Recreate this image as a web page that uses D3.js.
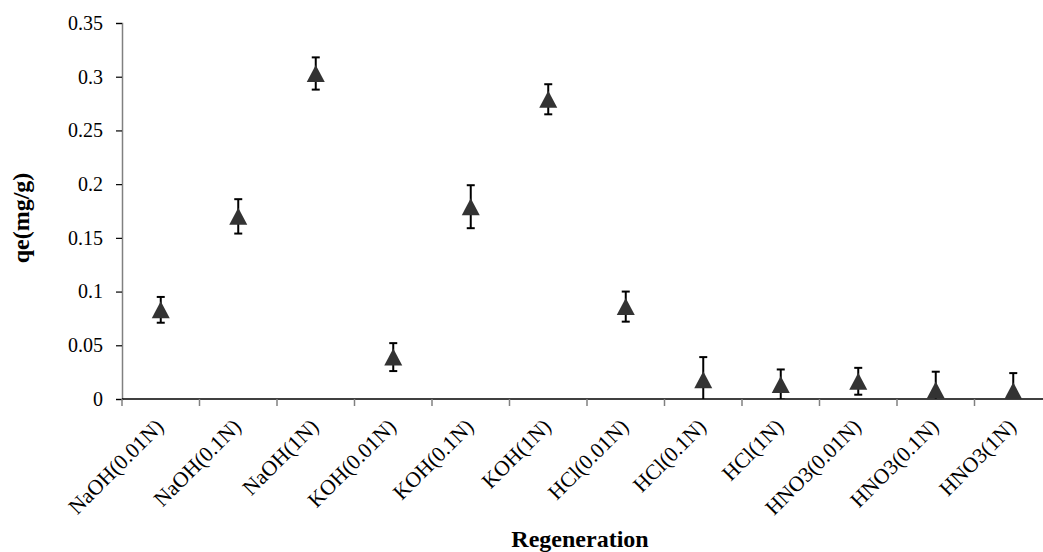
<!DOCTYPE html>
<html>
<head>
<meta charset="utf-8">
<script src="https://cdn.jsdelivr.net/npm/d3@7"></script>
<style>
  body { margin: 0; background: #fff; }
  svg { display: block; font-family: "Liberation Serif", "Times New Roman", serif; }
</style>
</head>
<body>
<script>
var categories = ["NaOH(0.01N)", "NaOH(0.1N)", "NaOH(1N)", "KOH(0.01N)", "KOH(0.1N)", "KOH(1N)",
                  "HCl(0.01N)", "HCl(0.1N)", "HCl(1N)", "HNO3(0.01N)", "HNO3(0.1N)", "HNO3(1N)"];
var qe     = [0.083, 0.170, 0.303, 0.039, 0.179, 0.279, 0.086, 0.018, 0.0135, 0.0165, 0.0084, 0.0076];
var errors = [0.012, 0.016, 0.015, 0.013, 0.020, 0.014, 0.014, 0.021, 0.014, 0.0125, 0.017, 0.0165];
var yTicks = [0, 0.05, 0.1, 0.15, 0.2, 0.25, 0.3, 0.35];
var yTickLabels = ["0", "0.05", "0.1", "0.15", "0.2", "0.25", "0.3", "0.35"];

var width = 1043,
    height = 552;

var margin = {left: 122, top: 23, bottom: 399, right: 1052};

var svg = d3.select('body')
    .append('svg')
    .attr('width', width)
    .attr('height', height);

var x = d3.scaleBand()
    .domain(categories)
    .range([margin.left, margin.right]);

var y = d3.scaleLinear()
    .domain([0, 0.35])
    .range([margin.bottom, margin.top]);

svg.append('clipPath')
    .attr('id', 'plot')
  .append('rect')
    .attr('x', margin.left)
    .attr('y', margin.top - 20)
    .attr('width', margin.right - margin.left)
    .attr('height', margin.bottom - margin.top + 20);

// y axis
var yAxis = svg.append('g')
    .attr('transform', 'translate(' + margin.left + ',0)')
    .call(d3.axisLeft(y)
        .tickValues(yTicks)
        .tickFormat((d, i) => yTickLabels[i])
        .tickSize(6)
        .tickPadding(13));
yAxis.select('.domain').attr('stroke', '#808080').attr('stroke-width', 1.5);
yAxis.selectAll('.tick line').attr('stroke', '#000').attr('stroke-width', 1.2);
yAxis.selectAll('.tick text')
    .attr('font-size', '20px')
    .attr('font-family', '"Liberation Serif", serif')
    .attr('fill', '#000');

// x axis: ticks at category boundaries
var bounds = categories.map(d => x(d)).concat([x.range()[1]]);
svg.append('line')
    .attr('x1', margin.left).attr('x2', margin.right)
    .attr('y1', y(0)).attr('y2', y(0))
    .attr('stroke', '#000').attr('stroke-width', 1.5);
svg.selectAll('.xtick')
    .data(bounds)
    .enter()
    .append('line')
    .attr('class', 'xtick')
    .attr('x1', d => d).attr('x2', d => d)
    .attr('y1', y(0)).attr('y2', y(0) + 7)
    .attr('stroke', '#808080').attr('stroke-width', 1.5);

svg.selectAll('.xlabel')
    .data(categories)
    .enter()
    .append('text')
    .attr('class', 'xlabel')
    .attr('transform', d => 'translate(' + (x(d) + x.bandwidth() / 2 + 4) + ',' + (y(0) + 29) + ') rotate(-45)')
    .attr('text-anchor', 'end')
    .attr('font-size', '21.5px')
    .attr('fill', '#000')
    .text(d => d);

// error bars
var plot = svg.append('g').attr('clip-path', 'url(#plot)');
var cx = d => x(d) + x.bandwidth() / 2;

var bars = plot.selectAll('.err')
    .data(categories)
    .enter()
    .append('g')
    .attr('class', 'err')
    .attr('stroke', '#000')
    .attr('stroke-width', 2);
bars.append('line')
    .attr('x1', cx).attr('x2', cx)
    .attr('y1', (d, i) => y(qe[i] + errors[i]))
    .attr('y2', (d, i) => y(qe[i] - errors[i]));
bars.append('line')
    .attr('x1', d => cx(d) - 4).attr('x2', d => cx(d) + 4)
    .attr('y1', (d, i) => y(qe[i] + errors[i]))
    .attr('y2', (d, i) => y(qe[i] + errors[i]));
bars.append('line')
    .attr('x1', d => cx(d) - 4).attr('x2', d => cx(d) + 4)
    .attr('y1', (d, i) => y(qe[i] - errors[i]))
    .attr('y2', (d, i) => y(qe[i] - errors[i]));

// triangle markers, centred on their box like the excel ones
var tri = {
  draw: function(context, size) {
    var w = 9, h = 8.5;
    context.moveTo(0, -h);
    context.lineTo(w, h);
    context.lineTo(-w, h);
    context.closePath();
  }
};

plot.selectAll('.pt')
    .data(categories)
    .enter()
    .append('path')
    .attr('class', 'pt')
    .attr('d', d3.symbol(tri))
    .attr('transform', (d, i) => 'translate(' + cx(d) + ',' + y(qe[i]) + ')')
    .attr('fill', '#333');

// titles
svg.append('text')
    .attr('transform', 'translate(29,218) rotate(-90)')
    .attr('text-anchor', 'middle')
    .attr('font-size', '24px')
    .attr('font-weight', 'bold')
    .text('qe(mg/g)');

svg.append('text')
    .attr('x', 580)
    .attr('y', 547)
    .attr('text-anchor', 'middle')
    .attr('font-size', '24px')
    .attr('font-weight', 'bold')
    .text('Regeneration');
</script>
</body>
</html>
